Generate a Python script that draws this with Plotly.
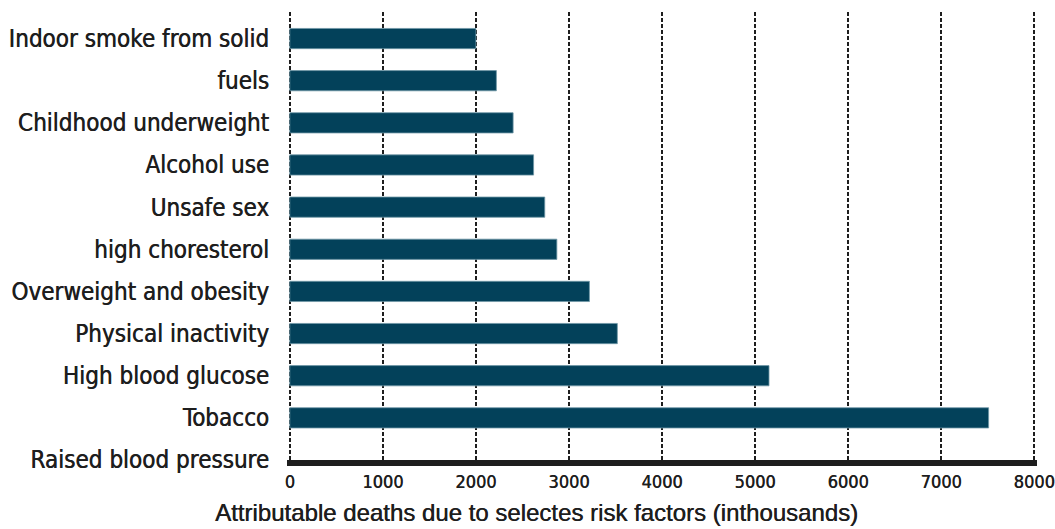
import plotly.graph_objects as go

# Risk factor labels (top to bottom) and attributable deaths in thousands
risk_factors = [
    "Indoor smoke from solid",
    "fuels",
    "Childhood underweight",
    "Alcohol use",
    "Unsafe sex",
    "high choresterol",
    "Overweight and obesity",
    "Physical inactivity",
    "High blood glucose",
    "Tobacco",
    "Raised blood pressure",
]
deaths_thousands = [2000, 2220, 2400, 2620, 2740, 2870, 3220, 3520, 5150, 7510, None]
x_ticks = [0, 1000, 2000, 3000, 4000, 5000, 6000, 7000, 8000]

positions = list(range(len(risk_factors)))

LABEL_FONT = "DejaVu Sans Condensed, Liberation Sans Narrow, Arial Narrow, sans-serif"
INK = "#1e1e1e"

fig = go.Figure(
    go.Bar(
        x=deaths_thousands,
        y=positions,
        orientation="h",
        width=0.48,
        marker=dict(color="#03415A", line=dict(color="#6f97a6", width=0.8)),
        hoverinfo="x+y",
    )
)

fig.update_layout(
    width=1055,
    height=529,
    margin=dict(l=287, r=18, t=12, b=69),
    paper_bgcolor="white",
    plot_bgcolor="white",
    showlegend=False,
    xaxis=dict(
        range=[-30, 8030],
        automargin=False,
        tickvals=x_ticks,
        ticktext=[str(v) for v in x_ticks],
        showgrid=True,
        gridcolor=INK,
        gridwidth=2,
        griddash="4px,2px",
        zeroline=False,
        showline=True,
        linecolor=INK,
        linewidth=6,
        ticks="",
        ticklabeloverflow="allow",
        tickfont=dict(family=LABEL_FONT, size=18, color=INK, shadow=f"0.4px 0 0 {INK}"),
    ),
    yaxis=dict(
        range=[10, -0.63],
        automargin=False,
        tickvals=positions,
        ticktext=risk_factors,
        showgrid=False,
        zeroline=False,
        showline=False,
        ticks="",
        ticklabelstandoff=17,
        tickfont=dict(family=LABEL_FONT, size=24, color=INK, shadow=f"0.5px 0 0 {INK}"),
    ),
    annotations=[
        dict(
            text="Attributable deaths due to selectes risk factors (inthousands)",
            xref="paper",
            yref="paper",
            x=0.333,
            y=-0.118,
            xanchor="center",
            yanchor="middle",
            showarrow=False,
            font=dict(family="Liberation Sans, Arial, sans-serif", size=24, color=INK,
                      shadow=f"0.4px 0 0 {INK}"),
        )
    ],
)

fig.write_html("out.html")
